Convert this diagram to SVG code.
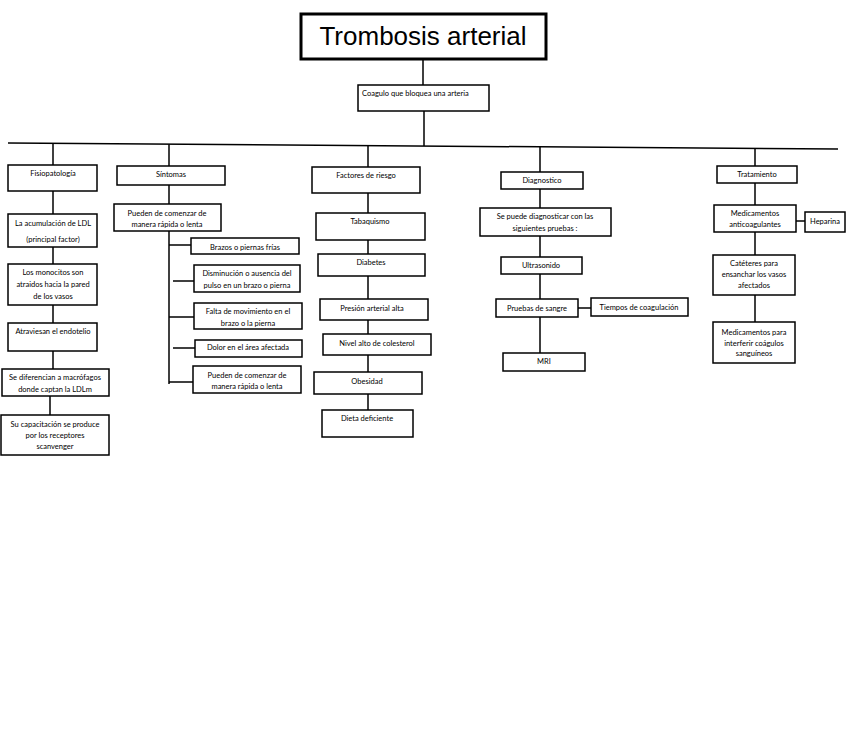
<svg xmlns="http://www.w3.org/2000/svg" width="848" height="738" viewBox="0 0 848 738">
<style>
rect.b{fill:#fff;stroke:#000;stroke-width:1.5}
rect.t{fill:#fff;stroke:#000;stroke-width:3}
text{font-family:Lato,"Liberation Sans",sans-serif;font-size:7.5px;fill:#000;text-anchor:middle}
text.title{font-family:"Liberation Sans",Arial,sans-serif;font-size:26px}
#connectors line,#connectors polyline{stroke:#000;stroke-width:1.5;fill:none}
</style>
<rect width="848" height="738" fill="#fff"/>
<g id="connectors">
<line x1="423" y1="59" x2="423" y2="85"/>
<line x1="424" y1="111" x2="424" y2="146"/>
<line x1="8" y1="143" x2="838" y2="149"/>
<line x1="53" y1="143.3" x2="53" y2="165"/>
<line x1="169" y1="144.2" x2="169" y2="166"/>
<line x1="368" y1="145.6" x2="368" y2="167"/>
<line x1="540" y1="146.8" x2="540" y2="172"/>
<line x1="755" y1="148.4" x2="755" y2="166"/>
<line x1="53" y1="191" x2="53" y2="214"/>
<line x1="53" y1="247" x2="53" y2="264"/>
<line x1="53" y1="305" x2="53" y2="323"/>
<line x1="53" y1="351" x2="53" y2="369"/>
<line x1="50" y1="396" x2="50" y2="415"/>
<line x1="169" y1="185" x2="169" y2="204"/>
<line x1="169" y1="231" x2="169" y2="384"/>
<line x1="169" y1="245" x2="191" y2="245"/>
<line x1="173" y1="281" x2="194" y2="281"/>
<line x1="169" y1="317" x2="194" y2="317"/>
<line x1="173" y1="348" x2="195" y2="348"/>
<line x1="169" y1="382" x2="193" y2="382"/>
<line x1="368" y1="193" x2="368" y2="213"/>
<line x1="368" y1="240" x2="368" y2="254"/>
<line x1="368" y1="276" x2="368" y2="299"/>
<line x1="368" y1="320" x2="368" y2="334"/>
<line x1="368" y1="355" x2="368" y2="372"/>
<line x1="368" y1="394" x2="368" y2="410"/>
<line x1="540" y1="189" x2="540" y2="208"/>
<line x1="540" y1="236" x2="540" y2="257"/>
<line x1="540" y1="274" x2="540" y2="299"/>
<line x1="540" y1="317" x2="540" y2="353"/>
<line x1="578" y1="308" x2="591" y2="308"/>
<line x1="755" y1="183" x2="755" y2="205"/>
<line x1="755" y1="232" x2="755" y2="255"/>
<line x1="755" y1="295" x2="755" y2="322"/>
<line x1="796" y1="221" x2="805" y2="221"/>
</g>
<g id="title"><rect class="t" x="301" y="14" width="245" height="45"/><text class="title" x="423" y="45">Trombosis arterial</text></g>
<g id="coagulo"><rect class="b" x="358" y="85" width="131" height="26"/><text x="362" y="96" style="text-anchor:start">Coagulo que bloquea una arteria</text></g>

<g id="fisiopatologia"><rect class="b" x="8" y="165" width="89" height="26"/><text x="53" y="176">Fisiopatología</text></g>
<g id="ldl"><rect class="b" x="8" y="214" width="89" height="33"/><text x="53" y="226">La acumulación de LDL</text><text x="53" y="242">(principal factor)</text></g>
<g id="monocitos"><rect class="b" x="8" y="264" width="89" height="41"/><text x="53" y="275">Los monocitos son</text><text x="53" y="287">atraidos hacia la pared</text><text x="53" y="299">de los vasos</text></g>
<g id="atraviesan"><rect class="b" x="8" y="323" width="89" height="28"/><text x="53" y="334">Atraviesan el endotelio</text></g>
<g id="diferencian"><rect class="b" x="2" y="369" width="107" height="27"/><text x="55" y="380">Se diferencian a macrófagos</text><text x="55" y="392">donde captan la LDLm</text></g>
<g id="capacitacion"><rect class="b" x="1" y="415" width="108" height="40"/><text x="55" y="427">Su capacitación se produce</text><text x="55" y="438">por los receptores</text><text x="55" y="449">scanvenger</text></g>

<g id="sintomas"><rect class="b" x="117" y="166" width="108" height="19"/><text x="171" y="177">Síntomas</text></g>
<g id="pueden"><rect class="b" x="114" y="204" width="107" height="27"/><text x="167" y="216">Pueden de comenzar de</text><text x="167" y="227">manera rápida o lenta</text></g>
<g id="brazos"><rect class="b" x="191" y="238" width="108" height="16"/><text x="245" y="250">Brazos o piernas frías</text></g>
<g id="disminucion"><rect class="b" x="194" y="265" width="106" height="27"/><text x="247" y="276">Disminución o ausencia del</text><text x="247" y="288">pulso en un brazo o pierna</text></g>
<g id="falta"><rect class="b" x="194" y="303" width="108" height="26"/><text x="248" y="314">Falta de movimiento en el</text><text x="248" y="326">brazo o la pierna</text></g>
<g id="dolor"><rect class="b" x="195" y="340" width="107" height="17"/><text x="248" y="350">Dolor en el área afectada</text></g>
<g id="pueden2"><rect class="b" x="193" y="366" width="108" height="27"/><text x="247" y="378">Pueden de comenzar de</text><text x="247" y="389">manera rápida o lenta</text></g>

<g id="factores"><rect class="b" x="312" y="167" width="108" height="26"/><text x="366" y="178">Factores de riesgo</text></g>
<g id="tabaquismo"><rect class="b" x="316" y="213" width="109" height="27"/><text x="370" y="224">Tabaquismo</text></g>
<g id="diabetes"><rect class="b" x="318" y="254" width="107" height="22"/><text x="371" y="265">Diabetes</text></g>
<g id="presion"><rect class="b" x="320" y="299" width="108" height="21"/><text x="372" y="311">Presión arterial alta</text></g>
<g id="nivel"><rect class="b" x="323" y="334" width="108" height="21"/><text x="377" y="346">Nivel alto de colesterol</text></g>
<g id="obesidad"><rect class="b" x="314" y="372" width="108" height="22"/><text x="367" y="384">Obesidad</text></g>
<g id="dieta"><rect class="b" x="322" y="410" width="91" height="27"/><text x="367" y="421">Dieta deficiente</text></g>

<g id="diagnostico"><rect class="b" x="501" y="172" width="82" height="17"/><text x="542" y="183">Diagnostico</text></g>
<g id="sepuede"><rect class="b" x="480" y="208" width="131" height="28"/><text x="545" y="219">Se puede diagnosticar con las</text><text x="545" y="231">siguientes pruebas :</text></g>
<g id="ultrasonido"><rect class="b" x="501" y="257" width="81" height="17"/><text x="541" y="268">Ultrasonido</text></g>
<g id="pruebas"><rect class="b" x="496" y="299" width="82" height="18"/><text x="537" y="311">Pruebas de sangre</text></g>
<g id="tiempos"><rect class="b" x="591" y="298" width="97" height="18"/><text x="639" y="310">Tiempos de coagulación</text></g>
<g id="mri"><rect class="b" x="503" y="353" width="82" height="18"/><text x="544" y="364">MRI</text></g>

<g id="tratamiento"><rect class="b" x="717" y="166" width="80" height="17"/><text x="757" y="177">Tratamiento</text></g>
<g id="anticoagulantes"><rect class="b" x="714" y="205" width="82" height="27"/><text x="755" y="216">Medicamentos</text><text x="755" y="227">anticoagulantes</text></g>
<g id="heparina"><rect class="b" x="805" y="212" width="40" height="20"/><text x="825" y="224">Heparina</text></g>
<g id="cateteres"><rect class="b" x="713" y="255" width="82" height="40"/><text x="754" y="266">Catéteres para</text><text x="754" y="277">ensanchar los vasos</text><text x="754" y="288">afectados</text></g>
<g id="medicamentos"><rect class="b" x="713" y="322" width="82" height="41"/><text x="754" y="335">Medicamentos para</text><text x="754" y="346">interferir coágulos</text><text x="754" y="356">sanguíneos</text></g>
</svg>
